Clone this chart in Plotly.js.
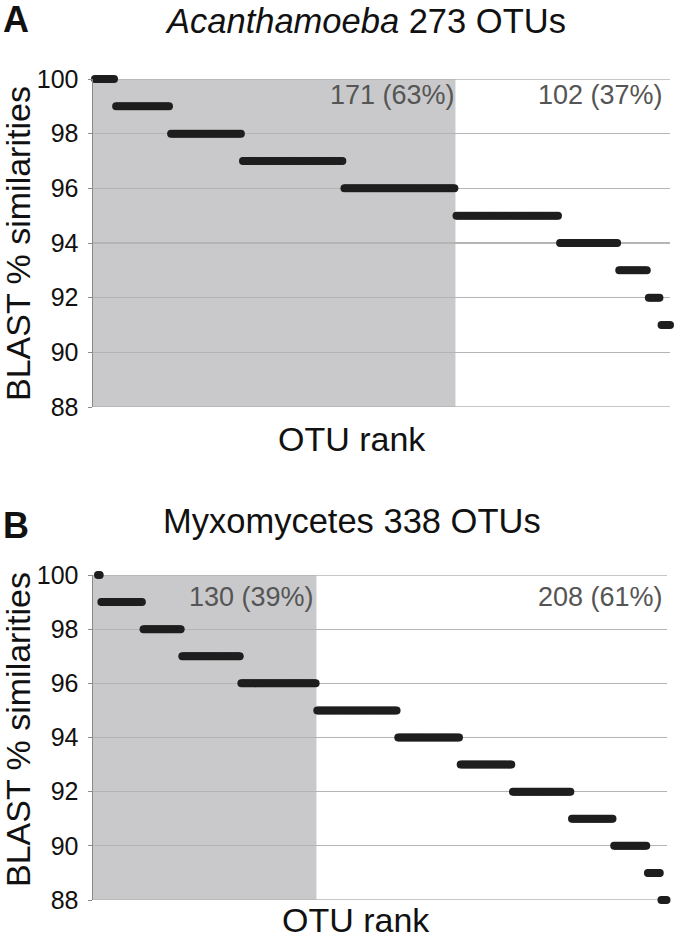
<!DOCTYPE html>
<html>
<head>
<meta charset="utf-8">
<script src="https://cdn.plot.ly/plotly-3.0.1.min.js"></script>
<style>html,body{margin:0;padding:0;background:#fff;}</style>
</head>
<body>
<div id="chart" style="width:675px;height:942px;"></div>
<script>
// ---- Data ----
const titleA = "<i>Acanthamoeba</i> 273 OTUs";
const titleB = "Myxomycetes 338 OTUs";
const levelsA = [100, 99, 98, 97, 96, 95, 94, 93, 92, 91];
const countsA = [10, 26, 34, 48, 53, 49, 28, 14, 6, 5];
const levelsB = [100, 99, 98, 97, 96, 95, 94, 93, 92, 91, 90, 89, 88];
const countsB = [2, 25, 23, 35, 45, 48, 37, 31, 35, 25, 20, 8, 4];
const thresholdLevel = 96;
const percentsA = [63, 37];   // as printed in the figure
const percentsB = [39, 61];   // as printed in the figure
const yTicks = [88, 90, 92, 94, 96, 98, 100];
const yTitle = "BLAST % similarities";
const xTitle = "OTU rank";

// ---- Build per-OTU series ----
function expand(levels, counts) {
  const x = [], y = [];
  let r = 1;
  levels.forEach((lv, i) => {
    for (let k = 0; k < counts[i]; k++) { x.push(r); y.push(lv); r++; }
  });
  return {x, y};
}
function splitCount(levels, counts) {
  let hi = 0, lo = 0;
  levels.forEach((lv, i) => { if (lv >= thresholdLevel) hi += counts[i]; else lo += counts[i]; });
  return [hi, lo];
}
const sA = expand(levelsA, countsA);
const sB = expand(levelsB, countsB);
const [hiA, loA] = splitCount(levelsA, countsA);
const [hiB, loB] = splitCount(levelsB, countsB);
const totA = hiA + loA, totB = hiB + loB;

const W = 675, H = 942;
const px = v => v / W;
const py = v => 1 - v / H;

const FONT = "Liberation Sans, Arial, sans-serif";
const GRID = "#b4b4b4";
const markerStyle = {size: 8, color: "#1e1e1e", symbol: "circle", line: {width: 0}};

const traces = [
  {x: sA.x, y: sA.y, type: "scatter", mode: "markers", marker: markerStyle,
   xaxis: "x", yaxis: "y", cliponaxis: false, hoverinfo: "skip"},
  {x: sB.x, y: sB.y, type: "scatter", mode: "markers", marker: markerStyle,
   xaxis: "x2", yaxis: "y2", cliponaxis: false, hoverinfo: "skip"}
];

const xRangeA = [0.05, totA];
const xRangeB = [-1.96, totB + 0.3];
const yMin = yTicks[0], yMax = yTicks[yTicks.length - 1];

const yAxisCommon = {
  range: [yMin, yMax], tickvals: yTicks, ticktext: yTicks.map(String),
  showgrid: true, gridcolor: GRID, gridwidth: 1.3,
  showline: true, linecolor: "#8a8a8a", linewidth: 1.5,
  ticks: "outside", ticklen: 4, tickcolor: "#8a8a8a",
  tickfont: {family: FONT, size: 25, color: "#111"},
  ticklabelstandoff: 4, zeroline: false, fixedrange: true
};
const xAxisCommon = {
  showgrid: false, zeroline: false, showticklabels: false, ticks: "",
  showline: false, fixedrange: true
};

const annFont = (size, color) => ({family: FONT, size: size, color: color || "#111"});
const ann = (text, x, y, opts) => Object.assign({
  text: text, x: px(x), y: py(y), xref: "paper", yref: "paper",
  showarrow: false, xanchor: "center", yanchor: "middle", font: annFont(34.5)
}, opts || {});

const annotations = [
  ann("<b>A</b>", 1, 20, {xanchor: "left", font: annFont(36)}),
  ann(titleA, 365, 21),
  ann(hiA + " (" + percentsA[0] + "%)", 457, 95, {xanchor: "right", font: annFont(27, "#555")}),
  ann(loA + " (" + percentsA[1] + "%)", 665, 95, {xanchor: "right", font: annFont(27, "#555")}),
  ann(xTitle, 352, 439, {font: annFont(34)}),
  ann(yTitle, 18, 244, {textangle: -90, font: annFont(34)}),
  ann("<b>B</b>", 1, 525, {xanchor: "left", font: annFont(36)}),
  ann(titleB, 352, 521),
  ann(hiB + " (" + percentsB[0] + "%)", 316, 597, {xanchor: "right", font: annFont(27, "#555")}),
  ann(loB + " (" + percentsB[1] + "%)", 665, 597, {xanchor: "right", font: annFont(27, "#555")}),
  ann(xTitle, 356, 920, {font: annFont(34)}),
  ann(yTitle, 18, 730, {textangle: -90, font: annFont(34)})
];

// shaded region (>= 96 %) plus the edge grid lines at the first/last tick
const edgeLine = (xr, yr, yv) => ({type: "line", xref: xr + " domain", yref: yr, x0: 0, x1: 1, y0: yv, y1: yv,
  line: {color: GRID, width: 1.3}, layer: "below"});
const shapes = [
  {type: "rect", xref: "x", yref: "y domain", x0: xRangeA[0], x1: hiA + 0.5, y0: 0, y1: 1,
   fillcolor: "#c9c9cb", line: {width: 0}, layer: "below"},
  {type: "rect", xref: "x2", yref: "y2 domain", x0: xRangeB[0], x1: hiB + 0.5, y0: 0, y1: 1,
   fillcolor: "#c9c9cb", line: {width: 0}, layer: "below"},
  edgeLine("x", "y", yMin), edgeLine("x", "y", yMax),
  edgeLine("x2", "y2", yMin), edgeLine("x2", "y2", yMax)
];

const layout = {
  width: W, height: H,
  margin: {l: 0, r: 0, t: 0, b: 0},
  paper_bgcolor: "#ffffff", plot_bgcolor: "rgba(0,0,0,0)",
  showlegend: false,
  font: {family: FONT, color: "#111"},
  xaxis: Object.assign({}, xAxisCommon, {domain: [px(93), px(670)], range: xRangeA, anchor: "y"}),
  yaxis: Object.assign({}, yAxisCommon, {domain: [py(407), py(79)], anchor: "x"}),
  xaxis2: Object.assign({}, xAxisCommon, {domain: [px(93), px(667)], range: xRangeB, anchor: "y2"}),
  yaxis2: Object.assign({}, yAxisCommon, {domain: [py(900), py(575)], anchor: "x2"}),
  annotations: annotations,
  shapes: shapes
};

Plotly.newPlot("chart", traces, layout, {staticPlot: true, displayModeBar: false});
</script>
</body>
</html>
